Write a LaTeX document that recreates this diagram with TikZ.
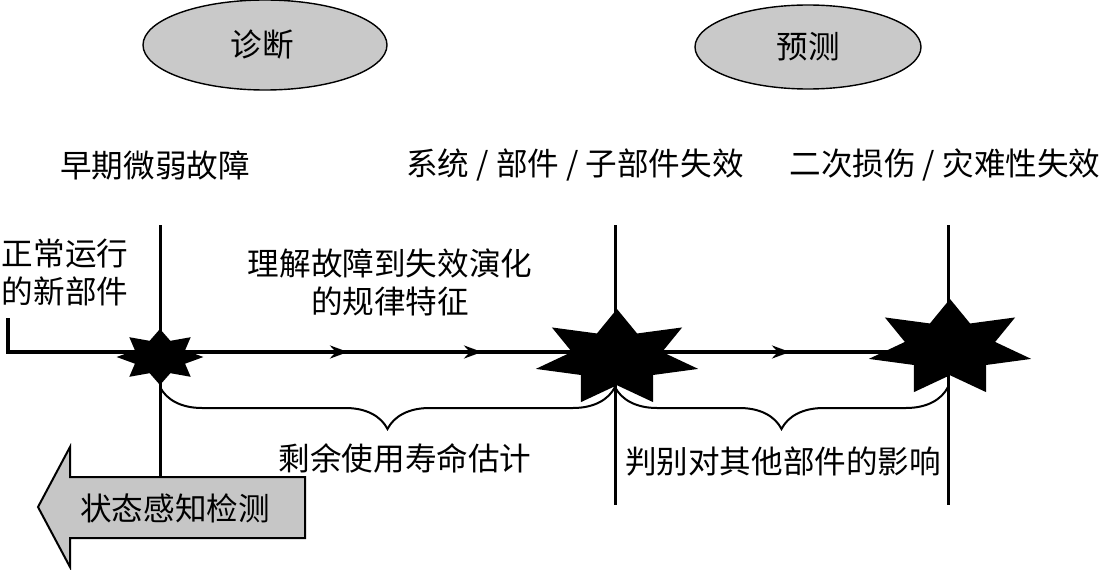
\documentclass[tikz,border=0pt]{standalone}
\usepackage{fontspec}
\setmainfont{Noto Sans CJK SC}
\usetikzlibrary{positioning,arrows.meta,shapes.geometric,decorations.pathreplacing,decorations.markings}

\begin{document}
\begin{tikzpicture}[x=0.5pt,y=0.5pt,
  lbl/.style={font=\fontsize{15.8}{19}\selectfont,inner sep=0pt,align=center},
  phase/.style={ellipse,draw,line width=0.7pt,fill=gray!42,inner sep=0pt},
  burst/.style={star,fill=black,inner sep=0pt,transform shape},
  stage/.style={line width=1.5pt},
  span/.style={decorate,decoration={brace,mirror,amplitude=21pt},line width=1pt}]
\useasboundingbox (0,0) rectangle (1103,569);
% phases
\node[phase,minimum width=122pt,minimum height=45pt] (diag) at (265,524) {};
\node[lbl] (diagtxt) at (262,524) {诊断};
\node[phase,minimum width=113pt,minimum height=42pt] (prog) at (808,522) {};
\node[lbl] (progtxt) at (808,522) {预测};
% stage labels
\node[lbl] (early) at (155,404) {早期微弱故障};
\node[lbl] (fail) at (575,404) {系统 / 部件 / 子部件失效};
\node[lbl] (cata) at (945,404) {二次损伤 / 灾难性失效};
\node[lbl] (normal) at (65,297) {正常运行\\的新部件};
\node[lbl] (evol) at (390,287) {理解故障到失效演化\\的规律特征};
% stage lines
\coordinate (t1) at (160,344); \coordinate (b1) at (160,92);
\coordinate (t2) at (615,344); \coordinate (b2) at (615,64);
\coordinate (t3) at (948,344); \coordinate (b3) at (948,64);
\draw[stage] (t1) -- (b1);
\draw[stage] (t2) -- (b2);
\draw[stage] (t3) -- (b3);
% time line
\coordinate (start) at (8,251);
\coordinate (lineend) at (1000,217);
\draw[line width=2pt,postaction={decorate},decoration={markings,
  mark=at position 187pt with {\arrow{Stealth[length=9pt,width=6.5pt]}},
  mark=at position 254pt with {\arrow{Stealth[length=9pt,width=6.5pt]}},
  mark=at position 408pt with {\arrow{Stealth[length=9pt,width=6.5pt]}}}]
  (start) |- (lineend);
% events
\begin{scope}[shift={(160,212)},xscale=1.55]
\node[burst,star points=8,star point ratio=1.6,minimum size=28pt] (s1) {};
\end{scope}
\begin{scope}[shift={(617,211)},xscale=1.7]
\node[burst,star points=7,star point ratio=1.8,minimum size=49pt] (s2) {};
\end{scope}
\begin{scope}[shift={(950,221)},xscale=1.7]
\node[burst,star points=7,star point ratio=1.8,minimum size=49pt] (s3) {};
\end{scope}
% braces
\coordinate (br1) at (160,182);
\coordinate (br2) at (615,182);
\coordinate (br3) at (948,182);
\draw[span] (br1) -- (br2);
\draw[span] (br2) -- (br3);
\node[lbl] (rul) at (405,111) {剩余使用寿命估计};
\node[lbl] (other) at (783,107) {判别对其他部件的影响};
% sensing arrow
\draw[line width=1pt,fill=gray!45] (305,92) -- (70,92) -- (70,122) -- (38,62) -- (70,2) -- (70,31) -- (305,31) -- cycle;
\node[lbl] (sense) at (175,61) {状态感知检测};
\end{tikzpicture}
\end{document}
